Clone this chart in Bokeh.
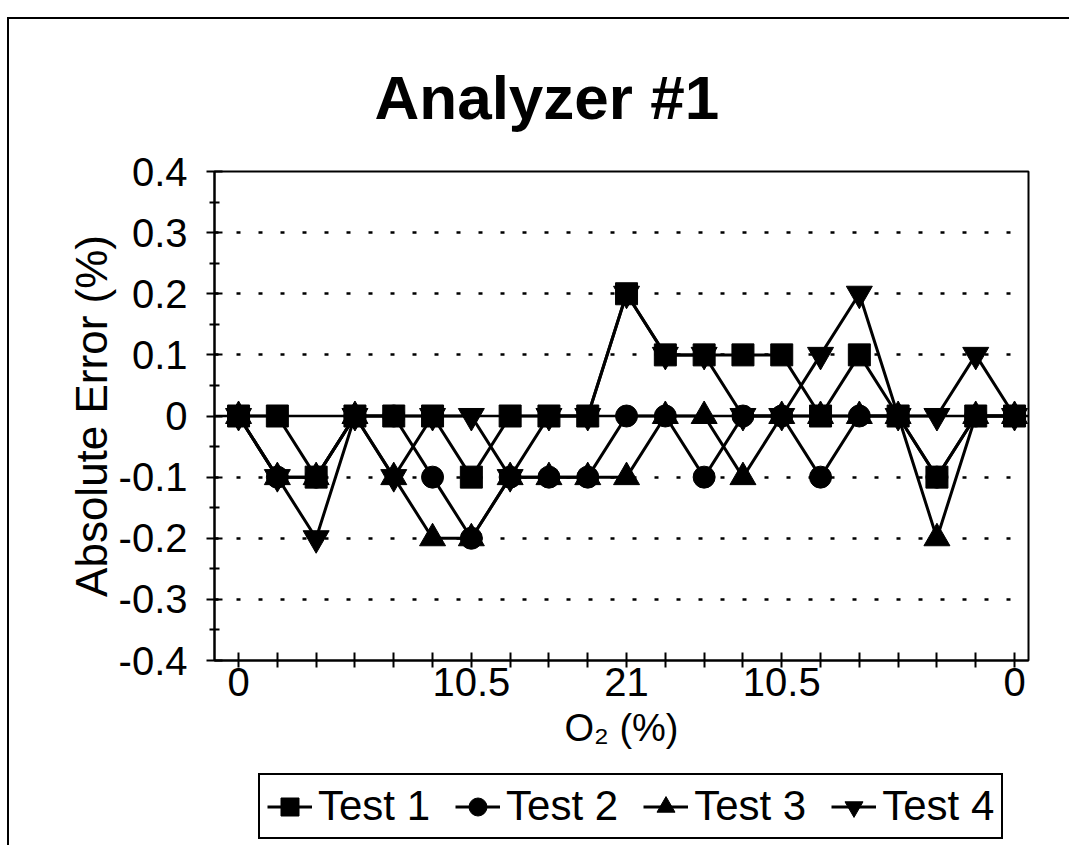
from bokeh.plotting import figure
from bokeh.layouts import column
from bokeh.models import Range1d, FixedTicker, Span, Legend, LegendItem, InlineStyleSheet
from bokeh.embed import file_html
from bokeh.resources import INLINE

# ---------------- data ----------------
x_index = list(range(21))
x_tick_labels = {0: "0", 6: "10.5", 10: "21", 14: "10.5", 20: "0"}
y_ticks = [-0.4, -0.3, -0.2, -0.1, 0.0, 0.1, 0.2, 0.3, 0.4]
y_tick_labels = ["-0.4", "-0.3", "-0.2", "-0.1", "0", "0.1", "0.2", "0.3", "0.4"]
y_minor_ticks = [-0.35, -0.25, -0.15, -0.05, 0.05, 0.15, 0.25, 0.35]
grid_ticks = [-0.3, -0.2, -0.1, 0.1, 0.2, 0.3]

test1 = [0, 0, -0.1, 0, 0, 0, -0.1, 0, 0, 0, 0.2, 0.1, 0.1, 0.1, 0.1, 0, 0.1, 0, -0.1, 0, 0]
test2 = [0, -0.1, -0.1, 0, 0, -0.1, -0.2, -0.1, -0.1, -0.1, 0, 0, -0.1, 0, 0, -0.1, 0, 0, -0.1, 0, 0]
test3 = [0, -0.1, -0.1, 0, -0.1, -0.2, -0.2, -0.1, -0.1, -0.1, -0.1, 0, 0, -0.1, 0, 0, 0, 0, -0.2, 0, 0]
test4 = [0, -0.1, -0.2, 0, -0.1, 0, 0, -0.1, 0, 0, 0.2, 0.1, 0.1, 0, 0, 0.1, 0.2, 0, 0, 0.1, 0]

series_names = ["Test 1", "Test 2", "Test 3", "Test 4"]
series_values = [test1, test2, test3, test4]
series_markers = ["square", "circle", "triangle", "inverted_triangle"]
series_sizes = [22, 22, 26, 26]

title_text = "Analyzer #1"
x_title = "O\u2082 (%)"
y_title = "Absolute Error (%)"

FONT = "Liberation Sans"

W = 1069
H_MAIN = 764
H_LEG = 81

# ---------------- main figure ----------------
p = figure(width=W, height=H_MAIN, output_backend="svg", toolbar_location=None,
           x_range=Range1d(-0.62, 20.36), y_range=Range1d(-0.4, 0.4),
           min_border_left=214, min_border_right=41, min_border_top=171,
           min_border_bottom=H_MAIN - 660)
p.background_fill_color = "white"
p.border_fill_color = "white"
p.outline_line_color = "black"
p.outline_line_width = 2

# title
p.title.text = title_text
p.title.align = "left"
p.title.offset = 160
p.title.standoff = 80
p.title.text_font = FONT
p.title.text_font_size = "62px"
p.title.text_font_style = "bold"
p.title.text_color = "black"

# x axis
p.xaxis.ticker = FixedTicker(ticks=x_index)
p.xaxis.major_label_overrides = {i: x_tick_labels.get(i, "") for i in x_index}
p.xaxis.minor_tick_line_color = None
p.xaxis.major_tick_in = 8
p.xaxis.major_tick_out = 7
p.xaxis.major_tick_line_width = 2
p.xaxis.axis_line_width = 2
p.xaxis.major_label_standoff = 0
p.xaxis.major_label_text_font = FONT
p.xaxis.major_label_text_font_size = "40px"
p.xaxis.major_label_text_color = "black"
p.xaxis.axis_line_color = "black"
p.xaxis.major_tick_line_color = "black"
p.xaxis.axis_label = x_title
p.xaxis.axis_label_standoff = 8
p.xaxis.axis_label_text_font = FONT
p.xaxis.axis_label_text_font_size = "38px"
p.xaxis.axis_label_text_font_style = "normal"
p.xaxis.axis_label_text_color = "black"

# y axis
p.yaxis.ticker = FixedTicker(ticks=y_ticks, minor_ticks=y_minor_ticks)
p.yaxis.major_label_overrides = dict(zip(y_ticks, y_tick_labels))
p.yaxis.major_tick_in = 8
p.yaxis.major_tick_out = 8
p.yaxis.minor_tick_in = 5
p.yaxis.minor_tick_out = 5
p.yaxis.major_tick_line_width = 2
p.yaxis.minor_tick_line_width = 2
p.yaxis.axis_line_width = 2
p.yaxis.major_label_standoff = 19
p.yaxis.major_label_text_font = FONT
p.yaxis.major_label_text_font_size = "40px"
p.yaxis.major_label_text_color = "black"
p.yaxis.axis_line_color = "black"
p.yaxis.major_tick_line_color = "black"
p.yaxis.minor_tick_line_color = "black"
p.yaxis.axis_label = y_title
p.yaxis.axis_label_standoff = 0
p.yaxis.axis_label_text_font = FONT
p.yaxis.axis_label_text_font_size = "44px"
p.yaxis.axis_label_text_font_style = "normal"
p.yaxis.axis_label_text_color = "black"

# grids
p.xgrid.visible = False
p.ygrid.ticker = FixedTicker(ticks=grid_ticks)
p.ygrid.grid_line_color = "black"
p.ygrid.grid_line_width = 2.5
p.ygrid.grid_line_dash = "4 18"

p.add_layout(Span(location=0, dimension="width", line_color="black", line_width=2.5))

# series
for vals, mk, sz in zip(series_values, series_markers, series_sizes):
    p.line(x_index, vals, line_color="black", line_width=3)
    p.scatter(x_index, vals, marker=mk, size=sz, fill_color="black", line_color="black")

# ---------------- legend strip (same series, ranges keep the marks out of view) ----------------
q = figure(width=W, height=H_LEG, output_backend="svg", toolbar_location=None,
           title=None, x_axis_type=None, y_axis_type=None,
           x_range=Range1d(-0.62, 20.36), y_range=Range1d(10, 11), min_border=0)
q.outline_line_color = None
q.background_fill_color = "white"
q.border_fill_color = "white"

items = []
for name, vals, mk, sz in zip(series_names, series_values, series_markers, series_sizes):
    lr = q.line(x_index, vals, line_color="black", line_width=3)
    sr = q.scatter(x_index, vals, marker=mk, size=sz, fill_color="black", line_color="black")
    items.append(LegendItem(label=name, renderers=[lr, sr]))

legend = Legend(items=items, location=(44, 6), orientation="horizontal",
                border_line_color="black", border_line_width=2.5, border_line_alpha=1.0,
                background_fill_color="white", background_fill_alpha=1,
                padding=7, margin=0, spacing=25,
                glyph_width=45, glyph_height=45, label_standoff=6,
                label_text_font=FONT, label_text_font_size="42px",
                label_text_color="black")
q.add_layout(legend)

# outer chart frame (left and top edges, as in the scan)
frame_css = InlineStyleSheet(css="""
:host::after {
  content: "";
  position: absolute;
  left: 7px;
  top: 17px;
  right: 0px;
  bottom: 0px;
  border-left: 2px solid black;
  border-top: 2px solid black;
  pointer-events: none;
  z-index: 10;
}
""")

layout = column(p, q, spacing=0, stylesheets=[frame_css])

open("out.html", "w").write(file_html(layout, INLINE))
